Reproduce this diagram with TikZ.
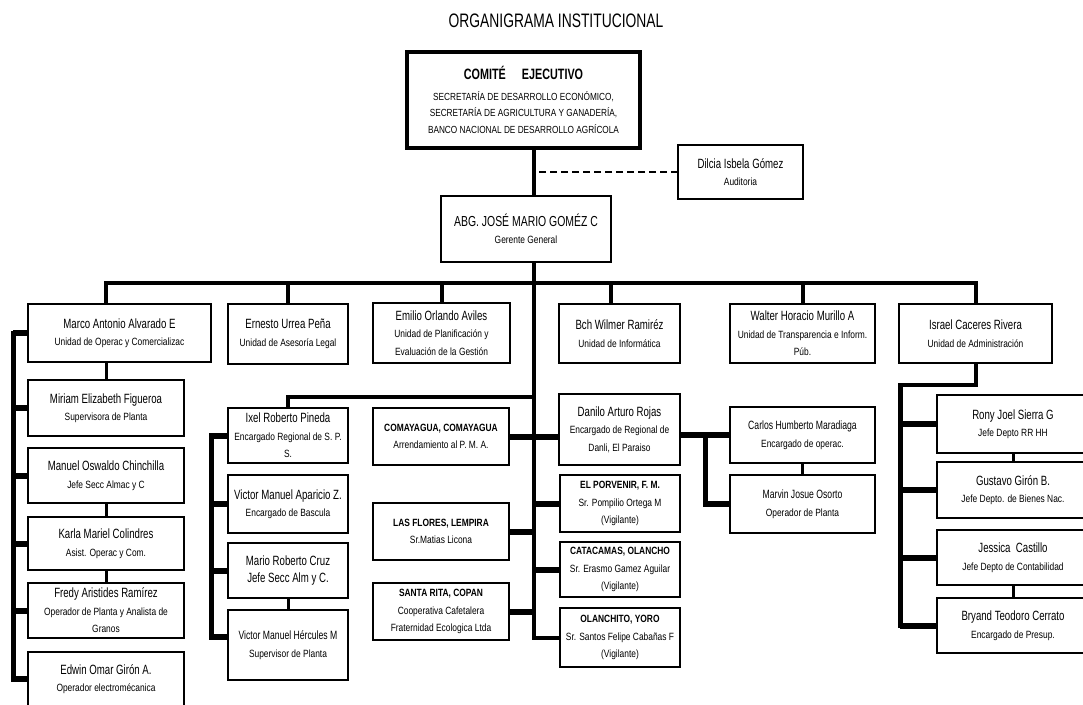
\documentclass[tikz,border=0pt]{standalone}
\usepackage{fontspec}
\setmainfont{Liberation Sans}[FakeStretch=0.8]
\newfontfamily\cnd{Liberation Sans}[FakeStretch=0.72]
\usetikzlibrary{calc}
\newcommand\NM[1]{{\cnd\fontsize{13.4}{15}\selectfont #1}}
\newcommand\SM[1]{{\cnd\fontsize{12}{14}\selectfont #1}}
\newcommand\obox[6]{\node[box, minimum width={#4-#2}, minimum height={#5-#3}] (#1) at ({(#2+#4)/2},{(#3+#5)/2}) {#6};}
\tikzset{
  box/.style={draw, line width=1.6pt, inner sep=1pt, outer sep=0pt, align=center, font=\fontsize{10.5}{17.5}\selectfont},
  edge/.style={line width=2.8pt, line cap=rect},
  bus/.style={line width=4pt},
  spine/.style={line width=5pt, line cap=rect},
  stub/.style={line width=6pt},
  conn/.style={line width=3pt},
  dashline/.style={line width=2pt, dash pattern=on 7pt off 4pt},
}
\begin{document}
\begin{tikzpicture}[x=1pt,y=-1pt]
\useasboundingbox (0,0) rectangle (1083,704);
\clip (0,0) rectangle (1083,704);
\node[font={\fontsize{19.5}{21}\selectfont\addfontfeature{FakeStretch=0.71}}] (title) at (556,21) {ORGANIGRAMA INSTITUCIONAL};

% executive committee
\node[draw, line width=4.5pt, minimum width=233, minimum height=96, inner sep=0pt, align=center, font=\fontsize{10.3}{16.5}\selectfont] (comite) at (523.5,100)
  {{\cnd\bfseries\fontsize{15}{16}\selectfont COMITÉ\hspace{16pt}EJECUTIVO}\\[4pt]
   SECRETARÍA DE DESARROLLO ECONÓMICO,\\ SECRETARÍA DE AGRICULTURA Y GANADERÍA,\\ BANCO NACIONAL DE DESARROLLO AGRÍCOLA};

\obox{dilcia}{678}{145}{803}{199}{\NM{Dilcia Isbela Gómez}\\ Auditoria}
\obox{gerente}{441}{196}{611}{262}{{\cnd\fontsize{14.5}{16}\selectfont ABG. JOSÉ MARIO GOMÉZ C}\\ Gerente General}

% first level
\obox{marco}{28}{304}{211}{362}{\NM{Marco Antonio Alvarado E}\\ Unidad de Operac y Comercializac}
\obox{ernesto}{228}{304}{348}{364}{\NM{Ernesto Urrea Peña}\\ Unidad de Asesoría Legal}
\obox{emilio}{373}{303}{510}{363}{\NM{Emilio Orlando Aviles}\\ Unidad de Planificación y\\ Evaluación de la Gestión}
\obox{bch}{559}{304}{680}{363}{\NM{Bch Wilmer Ramiréz}\\ Unidad de Informática}
\obox{walter}{730}{304}{875}{363}{\NM{Walter Horacio Murillo A}\\ Unidad de Transparencia e Inform.\\ Púb.}
\obox{israel}{899}{304}{1052}{363}{\NM{Israel Caceres Rivera}\\ Unidad de Administración}

% left column
\obox{miriam}{28}{380}{184}{436}{\NM{Miriam Elizabeth Figueroa}\\ Supervisora de Planta}
\obox{manuel}{28}{448}{184}{503}{\NM{Manuel Oswaldo Chinchilla}\\ Jefe Secc Almac y C}
\obox{karla}{28}{517}{184}{570}{\NM{Karla Mariel Colindres}\\ Asist. Operac y Com.}
\obox{fredy}{28}{583}{184}{638}{\NM{Fredy Aristides Ramírez}\\ Operador de Planta y Analista de\\ Granos}
\obox{edwin}{28}{652}{184}{706}{\NM{Edwin Omar Girón A.}\\ Operador electromécanica}

% second column
\obox{ixel}{228}{408}{348}{463}{\NM{Ixel Roberto Pineda}\\ Encargado Regional de S. P.\\ S.}
\obox{aparicio}{228}{475}{348}{533}{\NM{Victor Manuel Aparicio Z.}\\ Encargado de Bascula}
\obox{mario}{228}{543}{348}{598}{\NM{Mario Roberto Cruz}\\ \NM{Jefe Secc Alm y C.}}
\obox{hercules}{228}{610}{348}{680}{\SM{Victor Manuel Hércules M}\\ Supervisor de Planta}

% regional column
\obox{coma}{373}{408}{509}{465}{\textbf{COMAYAGUA, COMAYAGUA}\\ Arrendamiento al P. M. A.}
\obox{flores}{373}{503}{509}{560}{\textbf{LAS FLORES, LEMPIRA}\\ Sr.Matias Licona}
\obox{rita}{373}{583}{509}{640}{\textbf{SANTA RITA, COPAN}\\ Cooperativa Cafetalera\\ Fraternidad Ecologica Ltda}

\obox{danilo}{559}{394}{680}{465}{\NM{Danilo Arturo Rojas}\\ Encargado de Regional de\\ Danli, El Paraiso}
\obox{porvenir}{560}{475}{680}{532}{\textbf{EL PORVENIR, F. M.}\\ Sr. Pompilio Ortega M\\ (Vigilante)}
\obox{catacamas}{560}{542}{680}{597}{\textbf{CATACAMAS, OLANCHO}\\ Sr. Erasmo Gamez Aguilar\\ (Vigilante)}
\obox{olanchito}{560}{608}{680}{667}{\textbf{OLANCHITO, YORO}\\ Sr. Santos Felipe Cabañas F\\ (Vigilante)}

\obox{carlos}{730}{407}{875}{463}{\SM{Carlos Humberto Maradiaga}\\ Encargado de operac.}
\obox{marvin}{730}{475}{875}{533}{\SM{Marvin Josue Osorto}\\ Operador de Planta}

% right column
\obox{rony}{937}{395}{1089}{453}{\NM{Rony Joel Sierra G}\\ Jefe Depto RR HH}
\obox{gustavo}{937}{462}{1089}{518}{\NM{Gustavo Girón B.}\\ Jefe Depto. de Bienes Nac.}
\obox{jessica}{937}{530}{1089}{585}{\NM{Jessica\ \ Castillo}\\ Jefe Depto de Contabilidad}
\obox{bryand}{937}{598}{1089}{653}{\NM{Bryand Teodoro Cerrato}\\ Encargado de Presup.}

% thick top and bottom edges
\foreach \n in {dilcia,gerente,marco,ernesto,emilio,bch,walter,israel,miriam,manuel,karla,fredy,edwin,ixel,aparicio,mario,hercules,coma,flores,rita,danilo,porvenir,catacamas,olanchito,carlos,marvin,rony,gustavo,jessica,bryand}
  \draw[edge] (\n.north west) -- (\n.north east) (\n.south west) -- (\n.south east);

% helper coordinates
\coordinate (sp) at (534,0);
\coordinate (busy) at (0,283);
\coordinate (bchx) at (611,0);
\coordinate (ixy) at (0,397);
\coordinate (ls) at (13,0);
\coordinate (is) at (211,0);
\coordinate (ds) at (705,0);
\coordinate (rs) at (900,0);
\coordinate (iby) at (0,385);

% main spine
\draw[bus] (comite.south -| sp) -- (gerente.north -| sp);
\draw[dashline] (dilcia.west) -- (dilcia.west -| sp);
\draw[bus] (gerente.south -| sp) |- (olanchito.west);

% top bus and drops
\draw[bus, line cap=rect] (busy -| miriam) -- (busy -| israel);
\draw[bus] (busy -| miriam) -- (marco.north -| miriam);
\foreach \n in {ernesto,emilio,walter,israel}
  \draw[bus] (busy -| \n) -- (\n.north);
\draw[bus] (busy -| bchx) -- (bch.north -| bchx);

% left group
\draw[conn] (marco.south -| miriam) -- (miriam.north);
\draw[conn] (manuel.south) -- (karla.north);
\draw[conn] (karla.south) -- (fredy.north);
\draw[spine] (ls |- marco.west) -- (ls |- edwin.west);
\foreach \n in {marco,miriam,manuel,karla,fredy,edwin}
  \draw[stub] (ls |- \n.west) -- (\n.west);

% Ixel group
\draw[bus] (ixy -| sp) -| (ixel.north);
\coordinate (herc) at ($(hercules.west)+(0,-8)$);
\draw[spine] (is |- ixel.west) -- (is |- herc);
\foreach \n in {ixel,aparicio,mario}
  \draw[stub] (is |- \n.west) -- (\n.west);
\draw[stub] (is |- herc) -- (herc);
\draw[conn] (mario.south) -- (hercules.north);

% regional offices
\draw[stub] (coma.east) -- (coma.east -| danilo.west);
\foreach \n in {flores,rita}
  \draw[stub] (\n.east) -- (\n.east -| sp);
\foreach \n in {porvenir,catacamas}
  \draw[stub] (\n.west -| sp) -- (\n.west);

% Danilo group
\draw[stub] (danilo.east |- carlos.west) -- (carlos.west);
\draw[spine] (ds |- carlos.west) -- (ds |- marvin.west);
\draw[stub] (ds |- marvin.west) -- (marvin.west);
\draw[conn] (carlos.south) -- (marvin.north);

% administration group
\draw[bus] (israel.south) |- (iby -| rs);
\draw[spine] (iby -| rs) -- (rs |- bryand.west);
\foreach \n in {rony,gustavo,jessica,bryand}
  \draw[stub] (rs |- \n.west) -- (\n.west);
\draw[conn] (rony.south) -- (gustavo.north);
\draw[conn] (jessica.south) -- (bryand.north);
\end{tikzpicture}
\end{document}
